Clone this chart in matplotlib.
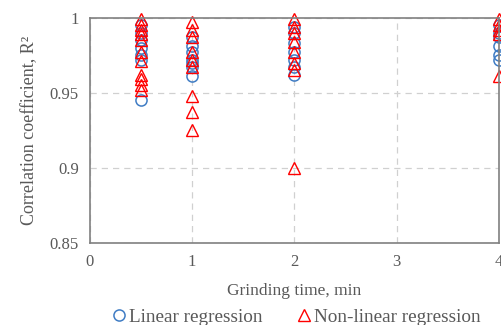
import numpy as np
import matplotlib
matplotlib.use("Agg")
import matplotlib.pyplot as plt

# lectura aproximada de la figura
t_lin_05 = [0.945, 0.972, 0.975, 0.980, 0.985, 0.990, 0.995]
t_lin_1 = [0.987, 0.981, 0.977, 0.972, 0.967, 0.961, 0.970]
t_lin_2 = [0.994, 0.990, 0.983, 0.977, 0.972, 0.967, 0.962]
t_lin_4 = [0.995, 0.990, 0.987, 0.981, 0.975, 0.972]

t_nl_05 = [0.999, 0.995, 0.992, 0.989, 0.985, 0.977, 0.971, 0.962, 0.959, 0.955, 0.952]
t_nl_1 = [0.997, 0.992, 0.987, 0.977, 0.972, 0.967, 0.948, 0.937, 0.925]
t_nl_2 = [0.999, 0.994, 0.990, 0.984, 0.977, 0.970, 0.965, 0.900]
t_nl_4 = [0.999, 0.995, 0.992, 0.989, 0.961]

tiempos = [0.5, 1, 2, 4]
lineal = [t_lin_05, t_lin_1, t_lin_2, t_lin_4]
no_lineal = [t_nl_05, t_nl_1, t_nl_2, t_nl_4]

plt.rcParams['font.family'] = ['Liberation Serif', 'DejaVu Serif']
gris = '#595959'

fig = plt.figure(figsize=(5.02, 3.25), dpi=100)
ax = fig.add_axes([0.179, 0.252, 0.815, 0.693])

for t, vals in zip(tiempos, lineal):
    ax.plot([t] * len(vals), vals, linestyle='none', marker='o', ms=8,
            mfc='none', mec='#3F7CC4', mew=1.1, clip_on=False)
for t, vals in zip(tiempos, no_lineal):
    ax.plot([t] * len(vals), vals, linestyle='none', marker='^', ms=8,
            mfc='none', mec='#FF0000', mew=1.0, clip_on=False)

ax.set_xlim(0, 4)
ax.set_ylim(0.85, 1.0)
ax.set_xticks([0, 1, 2, 3, 4])
ax.set_yticks([0.85, 0.9, 0.95, 1.0])
ax.set_yticklabels(['0.85', '0.9', '0.95', '1'])
ax.grid(True, linestyle=(0, (5, 4)), color='#D0D0D0', linewidth=0.9)
ax.set_axisbelow(True)
ax.tick_params(length=0, labelsize=12, colors=gris, pad=8)
for s in ax.spines.values():
    s.set_color('#808080')
    s.set_linewidth(1.2)

ax.set_xlabel('Grinding time, min', fontsize=12.5, color=gris, labelpad=9)
ax.set_ylabel('Correlation coefficient, R²', fontsize=13, color=gris, labelpad=8)

h1 = ax.plot([], [], linestyle='none', marker='o', ms=8, mfc='none', mec='#3F7CC4', mew=1.1)[0]
h2 = ax.plot([], [], linestyle='none', marker='^', ms=8, mfc='none', mec='#FF0000', mew=1.0)[0]
leg = fig.legend([h1, h2], ['Linear regression', 'Non-linear regression'],
                 loc='lower center', bbox_to_anchor=(0.588, -0.055), ncol=2, frameon=False,
                 fontsize=13.8, handletextpad=0.0, columnspacing=1.7, handlelength=1.0)
for txt in leg.get_texts():
    txt.set_color(gris)

fig.savefig('out.png', dpi=100)
